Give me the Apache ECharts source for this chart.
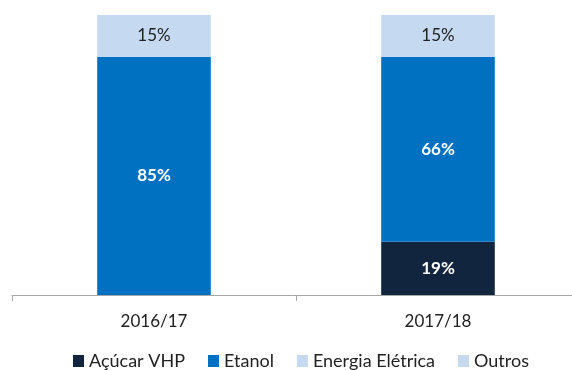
<!DOCTYPE html>
<html>
<head>
<meta charset="utf-8">
<script src="https://cdn.jsdelivr.net/npm/echarts@6/dist/echarts.min.js"></script>
<style>html,body{margin:0;padding:0;background:#fff}#c{width:572px;height:370px}</style>
</head>
<body>
<div id="c"></div>
<script>
// Share of revenue by product, per harvest season (%)
const categories = ['2016/17', '2017/18'];
const acucarVHP = [0, 19];
const etanol = [85, 66];
const energiaEletrica = [15, 15];
const outros = [0, 0];

const FONT = 'Lato, "Open Sans", sans-serif';

function mkSeries(name, data, color, labelColor, bold) {
  return {
    name: name,
    type: 'bar',
    stack: 'total',
    data: data,
    barWidth: '40%',
    itemStyle: { color: color },
    label: {
      show: true,
      position: 'inside',
      color: labelColor,
      fontFamily: FONT,
      fontSize: 17,
      fontWeight: bold ? 'bold' : 'normal',
      formatter: p => (p.value > 0 ? p.value + '%' : '')
    }
  };
}

const chart = echarts.init(document.getElementById('c'));
chart.setOption({
  animation: false,
  grid: { left: 12, right: -8, top: 15, bottom: 75, outerBoundsMode: 'none', containLabel: false },
  legend: {
    top: 352,
    left: 73,
    padding: 0,
    itemWidth: 11,
    itemHeight: 12,
    itemGap: 23,
    icon: 'rect',
    textStyle: { fontFamily: FONT, fontSize: 18, color: '#222' },
    data: ['Açúcar VHP', 'Etanol', 'Energia Elétrica', 'Outros']
  },
  xAxis: {
    type: 'category',
    data: categories,
    axisLine: { lineStyle: { color: '#a6a6a6', width: 1 } },
    axisTick: { show: true, length: 6, lineStyle: { color: '#a6a6a6' } },
    axisLabel: { fontFamily: FONT, fontSize: 17, color: '#222', margin: 18 }
  },
  yAxis: { type: 'value', min: 0, max: 100, show: false, splitLine: { show: false } },
  series: [
    mkSeries('Açúcar VHP', acucarVHP, '#12253f', '#fff', true),
    mkSeries('Etanol', etanol, '#0070c0', '#fff', true),
    mkSeries('Energia Elétrica', energiaEletrica, '#c5d9f1', '#222', false),
    mkSeries('Outros', outros, '#c6d9ef', '#222', false)
  ]
});
</script>
</body>
</html>
